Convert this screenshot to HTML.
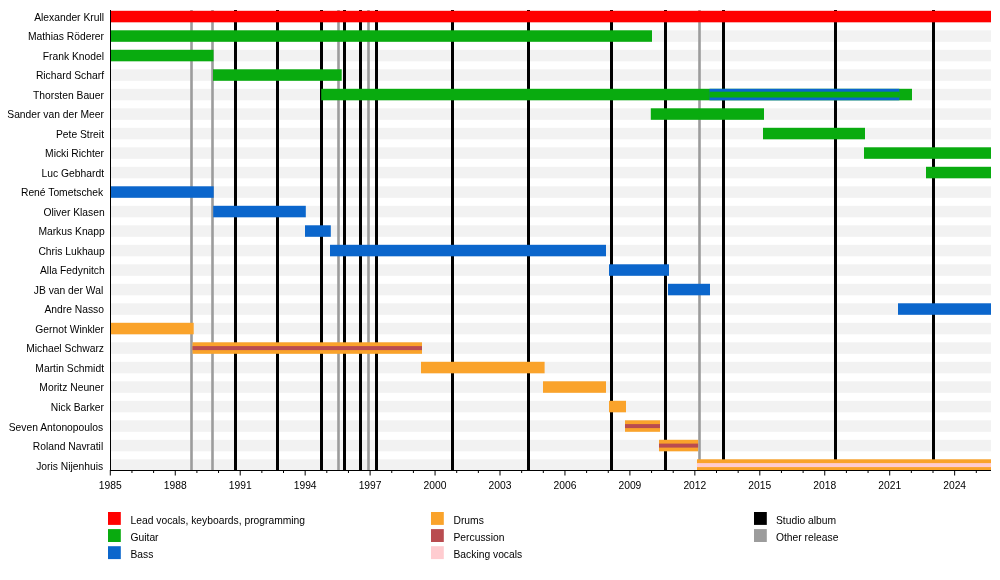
<!DOCTYPE html>
<html lang="en"><head><meta charset="utf-8"><title>Timeline</title>
<style>html,body{margin:0;padding:0;background:#fff}body{width:1000px;height:580px;overflow:hidden}svg{display:block}text{font-family:"Liberation Sans",Arial,Helvetica,sans-serif;font-size:10.3px;fill:#000}</style></head><body>
<svg width="1000" height="580" viewBox="0 0 1000 580">
<rect width="1000" height="580" fill="#fff"/>
<g fill="#f2f2f2">
<rect x="110" y="10.80" width="881" height="11.5"/>
<rect x="110" y="30.30" width="881" height="11.5"/>
<rect x="110" y="49.80" width="881" height="11.5"/>
<rect x="110" y="69.30" width="881" height="11.5"/>
<rect x="110" y="88.80" width="881" height="11.5"/>
<rect x="110" y="108.30" width="881" height="11.5"/>
<rect x="110" y="127.80" width="881" height="11.5"/>
<rect x="110" y="147.30" width="881" height="11.5"/>
<rect x="110" y="166.80" width="881" height="11.5"/>
<rect x="110" y="186.30" width="881" height="11.5"/>
<rect x="110" y="205.80" width="881" height="11.5"/>
<rect x="110" y="225.30" width="881" height="11.5"/>
<rect x="110" y="244.80" width="881" height="11.5"/>
<rect x="110" y="264.30" width="881" height="11.5"/>
<rect x="110" y="283.80" width="881" height="11.5"/>
<rect x="110" y="303.30" width="881" height="11.5"/>
<rect x="110" y="322.80" width="881" height="11.5"/>
<rect x="110" y="342.30" width="881" height="11.5"/>
<rect x="110" y="361.80" width="881" height="11.5"/>
<rect x="110" y="381.30" width="881" height="11.5"/>
<rect x="110" y="400.80" width="881" height="11.5"/>
<rect x="110" y="420.30" width="881" height="11.5"/>
<rect x="110" y="439.80" width="881" height="11.5"/>
<rect x="110" y="459.30" width="881" height="11.5"/>
</g>
<g>
<rect x="190.2" y="10" width="2.6" height="460" fill="#9c9c9c"/>
<rect x="211.2" y="10" width="2.6" height="460" fill="#9c9c9c"/>
<rect x="234" y="10" width="3" height="460" fill="#000"/>
<rect x="276" y="10" width="3" height="460" fill="#000"/>
<rect x="320" y="10" width="3" height="460" fill="#000"/>
<rect x="337.2" y="10" width="2.6" height="460" fill="#9c9c9c"/>
<rect x="343" y="10" width="3" height="460" fill="#000"/>
<rect x="359" y="10" width="3" height="460" fill="#000"/>
<rect x="367.2" y="10" width="2.6" height="460" fill="#9c9c9c"/>
<rect x="375" y="10" width="3" height="460" fill="#000"/>
<rect x="451" y="10" width="3" height="460" fill="#000"/>
<rect x="527" y="10" width="3" height="460" fill="#000"/>
<rect x="610" y="10" width="3" height="460" fill="#000"/>
<rect x="664" y="10" width="3" height="460" fill="#000"/>
<rect x="698.2" y="10" width="2.6" height="460" fill="#9c9c9c"/>
<rect x="722" y="10" width="3" height="460" fill="#000"/>
<rect x="834" y="10" width="3" height="460" fill="#000"/>
<rect x="932" y="10" width="3" height="460" fill="#000"/>
</g>
<g>
<rect x="110" y="10.80" width="881" height="11.5" fill="#ff0000"/>
<rect x="110" y="30.30" width="542" height="11.5" fill="#09ab0f"/>
<rect x="110" y="49.80" width="103.5" height="11.5" fill="#09ab0f"/>
<rect x="213" y="69.30" width="128.7" height="11.5" fill="#09ab0f"/>
<rect x="321.2" y="88.80" width="590.8" height="11.5" fill="#09ab0f"/>
<rect x="709.5" y="88.80" width="189.8" height="11.5" fill="#0b66cc"/>
<rect x="709.5" y="91.70" width="189.8" height="5.8" fill="#09ab0f"/>
<rect x="650.8" y="108.30" width="113.2" height="11.5" fill="#09ab0f"/>
<rect x="763" y="127.80" width="102" height="11.5" fill="#09ab0f"/>
<rect x="864" y="147.30" width="127" height="11.5" fill="#09ab0f"/>
<rect x="926" y="166.80" width="65" height="11.5" fill="#09ab0f"/>
<rect x="110" y="186.30" width="103.7" height="11.5" fill="#0b66cc"/>
<rect x="213.2" y="205.80" width="92.6" height="11.5" fill="#0b66cc"/>
<rect x="305" y="225.30" width="25.8" height="11.5" fill="#0b66cc"/>
<rect x="330" y="244.80" width="276" height="11.5" fill="#0b66cc"/>
<rect x="609" y="264.30" width="60" height="11.5" fill="#0b66cc"/>
<rect x="668" y="283.80" width="42" height="11.5" fill="#0b66cc"/>
<rect x="898" y="303.30" width="93" height="11.5" fill="#0b66cc"/>
<rect x="110" y="322.80" width="83.7" height="11.5" fill="#faa32b"/>
<rect x="192.5" y="342.30" width="229.5" height="11.5" fill="#faa32b"/>
<rect x="192.5" y="346.10" width="229.5" height="4" fill="#b94c50"/>
<rect x="421" y="361.80" width="123.6" height="11.5" fill="#faa32b"/>
<rect x="543" y="381.30" width="63" height="11.5" fill="#faa32b"/>
<rect x="609" y="400.80" width="17" height="11.5" fill="#faa32b"/>
<rect x="625" y="420.30" width="35" height="11.5" fill="#faa32b"/>
<rect x="625" y="424.10" width="35" height="4" fill="#b94c50"/>
<rect x="659" y="439.80" width="39.1" height="11.5" fill="#faa32b"/>
<rect x="659" y="443.60" width="39.1" height="4" fill="#b94c50"/>
<rect x="697" y="459.30" width="294" height="11.5" fill="#faa32b"/>
<rect x="697" y="463.10" width="294" height="4" fill="#ffccd0"/>
</g>
<g fill="#000">
<rect x="110" y="10" width="1" height="461"/>
<rect x="110" y="470" width="881" height="1"/>
<rect x="109.80" y="470" width="1" height="5.5"/>
<rect x="131.45" y="470" width="1" height="3"/>
<rect x="153.10" y="470" width="1" height="3"/>
<rect x="174.75" y="470" width="1" height="5.5"/>
<rect x="196.40" y="470" width="1" height="3"/>
<rect x="218.05" y="470" width="1" height="3"/>
<rect x="239.70" y="470" width="1" height="5.5"/>
<rect x="261.35" y="470" width="1" height="3"/>
<rect x="283.00" y="470" width="1" height="3"/>
<rect x="304.65" y="470" width="1" height="5.5"/>
<rect x="326.30" y="470" width="1" height="3"/>
<rect x="347.95" y="470" width="1" height="3"/>
<rect x="369.60" y="470" width="1" height="5.5"/>
<rect x="391.25" y="470" width="1" height="3"/>
<rect x="412.90" y="470" width="1" height="3"/>
<rect x="434.55" y="470" width="1" height="5.5"/>
<rect x="456.20" y="470" width="1" height="3"/>
<rect x="477.85" y="470" width="1" height="3"/>
<rect x="499.50" y="470" width="1" height="5.5"/>
<rect x="521.15" y="470" width="1" height="3"/>
<rect x="542.80" y="470" width="1" height="3"/>
<rect x="564.45" y="470" width="1" height="5.5"/>
<rect x="586.10" y="470" width="1" height="3"/>
<rect x="607.75" y="470" width="1" height="3"/>
<rect x="629.40" y="470" width="1" height="5.5"/>
<rect x="651.05" y="470" width="1" height="3"/>
<rect x="672.70" y="470" width="1" height="3"/>
<rect x="694.35" y="470" width="1" height="5.5"/>
<rect x="716.00" y="470" width="1" height="3"/>
<rect x="737.65" y="470" width="1" height="3"/>
<rect x="759.30" y="470" width="1" height="5.5"/>
<rect x="780.95" y="470" width="1" height="3"/>
<rect x="802.60" y="470" width="1" height="3"/>
<rect x="824.25" y="470" width="1" height="5.5"/>
<rect x="845.90" y="470" width="1" height="3"/>
<rect x="867.55" y="470" width="1" height="3"/>
<rect x="889.20" y="470" width="1" height="5.5"/>
<rect x="910.85" y="470" width="1" height="3"/>
<rect x="932.50" y="470" width="1" height="3"/>
<rect x="954.15" y="470" width="1" height="5.5"/>
<rect x="975.80" y="470" width="1" height="3"/>
</g>
<g text-anchor="end">
<text x="104" y="20.90">Alexander Krull</text>
<text x="104" y="40.40">Mathias Röderer</text>
<text x="104" y="59.90">Frank Knodel</text>
<text x="104" y="79.40">Richard Scharf</text>
<text x="104" y="98.90">Thorsten Bauer</text>
<text x="104" y="118.40">Sander van der Meer</text>
<text x="104" y="137.90">Pete Streit</text>
<text x="104" y="157.40">Micki Richter</text>
<text x="104" y="176.90">Luc Gebhardt</text>
<text x="103.2" y="196.40">René Tometschek</text>
<text x="104.7" y="215.90">Oliver Klasen</text>
<text x="104.8" y="235.40">Markus Knapp</text>
<text x="104.8" y="254.90">Chris Lukhaup</text>
<text x="104.7" y="274.40">Alla Fedynitch</text>
<text x="103.2" y="293.90">JB van der Wal</text>
<text x="104" y="313.40">Andre Nasso</text>
<text x="104" y="332.90">Gernot Winkler</text>
<text x="104" y="352.40">Michael Schwarz</text>
<text x="104" y="371.90">Martin Schmidt</text>
<text x="104" y="391.40">Moritz Neuner</text>
<text x="104" y="410.90">Nick Barker</text>
<text x="103.2" y="430.90">Seven Antonopoulos</text>
<text x="103.2" y="449.90">Roland Navratil</text>
<text x="103.2" y="470.00">Joris Nijenhuis</text>
</g>
<g text-anchor="middle">
<text x="110.30" y="488.8">1985</text>
<text x="175.25" y="488.8">1988</text>
<text x="240.20" y="488.8">1991</text>
<text x="305.15" y="488.8">1994</text>
<text x="370.10" y="488.8">1997</text>
<text x="435.05" y="488.8">2000</text>
<text x="500.00" y="488.8">2003</text>
<text x="564.95" y="488.8">2006</text>
<text x="629.90" y="488.8">2009</text>
<text x="694.85" y="488.8">2012</text>
<text x="759.80" y="488.8">2015</text>
<text x="824.75" y="488.8">2018</text>
<text x="889.70" y="488.8">2021</text>
<text x="954.65" y="488.8">2024</text>
</g>
<g>
<rect x="108" y="512.00" width="12.8" height="12.9" fill="#ff0000"/>
<text x="130.5" y="523.60">Lead vocals, keyboards, programming</text>
<rect x="108" y="529.10" width="12.8" height="12.9" fill="#09ab0f"/>
<text x="130.5" y="540.70">Guitar</text>
<rect x="108" y="546.20" width="12.8" height="12.9" fill="#0b66cc"/>
<text x="130.5" y="557.80">Bass</text>
<rect x="431" y="512.00" width="12.8" height="12.9" fill="#faa32b"/>
<text x="453.5" y="523.60">Drums</text>
<rect x="431" y="529.10" width="12.8" height="12.9" fill="#b94c50"/>
<text x="453.5" y="540.70">Percussion</text>
<rect x="431" y="546.20" width="12.8" height="12.9" fill="#ffccd0"/>
<text x="453.5" y="557.80">Backing vocals</text>
<rect x="754" y="512.00" width="12.8" height="12.9" fill="#000"/>
<text x="776" y="523.60">Studio album</text>
<rect x="754" y="529.10" width="12.8" height="12.9" fill="#9c9c9c"/>
<text x="776" y="540.70">Other release</text>
</g>
</svg></body></html>
